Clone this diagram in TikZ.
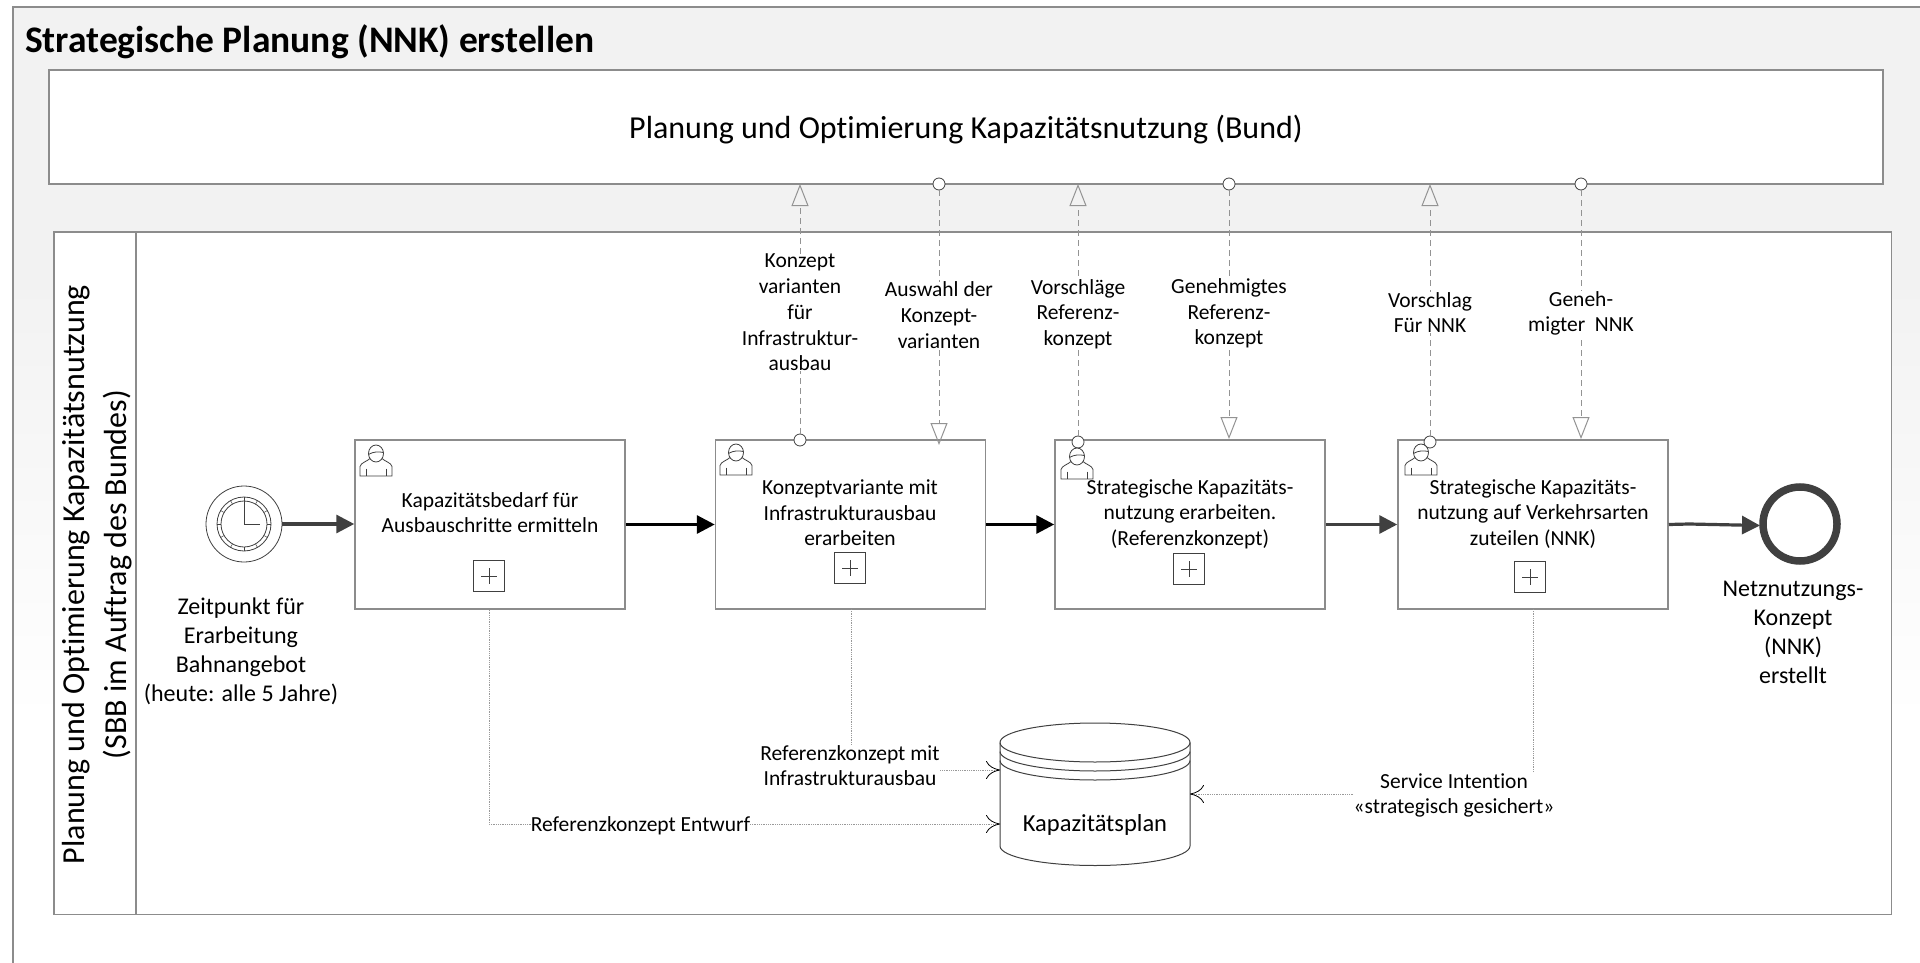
\documentclass[tikz,border=0pt]{standalone}
\usepackage{fontspec}
\setmainfont{Carlito}[Ligatures=CommonOff]
\usetikzlibrary{arrows.meta,shapes.geometric}
\definecolor{rahmen}{HTML}{8C8C8C}
\definecolor{fluss}{HTML}{404040}
\tikzset{
  titel/.style={anchor=west,font=\fontsize{37.5}{45}\selectfont\bfseries},
  kasten/.style={draw=rahmen,line width=1.5pt,fill=white},
  aufgabe/.style={draw=rahmen,line width=1.5pt,fill=white,minimum width=270pt,minimum height=169pt,inner sep=0pt},
  aufgabetext/.style={align=center,inner sep=0pt,yshift=-1pt,font=\fontsize{21.5}{25.5}\selectfont},
  plusbox/.style={draw=fluss,line width=0.7pt,fill=white,minimum width=31pt,minimum height=31pt,inner sep=0pt},
  gross/.style={align=center,inner sep=0pt,yshift=-1.5pt,font=\fontsize{24}{29}\selectfont},
  msgtext/.style={align=center,inner sep=0pt,yshift=-1.5pt,fill=white,font=\fontsize{21.5}{25.7}\selectfont},
  msgkreis/.style={circle,draw=fluss,line width=0.8pt,fill=white,minimum size=12pt,inner sep=0pt},
  msgfluss/.style={draw=gray!85,line width=1pt,dash pattern=on 6pt off 4pt,-{Triangle[open,length=22pt,width=17pt,sep=0pt]}},
  seqfluss/.style={draw=fluss,line width=3.2pt,-{Triangle[length=18pt,width=18pt]}},
  datenfluss/.style={draw=gray!80,line width=0.8pt,densely dotted},
  datenpfeil/.style={datenfluss,-{To[length=14pt,width=18pt,color=black]}},
  pics/person/.style={code={
    \draw[draw=fluss,line width=0.8pt,fill=white] (-16,15.5) -- (-16,6) .. controls (-15,2) and (-9,1) .. (-6,-2)
      -- (6,-2) .. controls (9,1) and (15,2) .. (16,6) -- (16,15.5) -- cycle;
    \draw[draw=fluss,line width=0.8pt,fill=white] (0,-7) ellipse [x radius=7.5,y radius=8.5];
    \draw[draw=fluss,line width=0.8pt] (-7.5,-6) .. controls (-3,-9) and (3,-9) .. (7.5,-8);
    \draw[draw=fluss,line width=0.6pt] (-10,8) -- (-10,15.5) (10,8) -- (10,15.5);
  }}
}
\begin{document}
\begin{tikzpicture}[x=1pt,y=-1pt]
\useasboundingbox (0,0) rectangle (1920,963);
% Hintergrund
\fill[black!5] (13,7) rectangle (1920,290);
\shade[top color=black!5,bottom color=white] (13,290) rectangle (1920,720);
\draw[draw=rahmen,line width=1.3pt] (13,963) -- (13,7) -- (1920,7);
\node[titel] (titel) at (21.5,42) {Strategische Planung (NNK) erstellen};
% Bund
\node[kasten,minimum width=1834pt,minimum height=114pt,inner sep=0pt] (bund) at (966,127) {};
\node[gross,font=\fontsize{32}{38}\selectfont,yshift=0pt] (bundtext) at (966,128.5) {Planung und Optimierung Kapazitätsnutzung (Bund)};
% Pool
\node[kasten,minimum width=1837.5pt,minimum height=682.5pt,inner sep=0pt] (pool) at (972.75,573.25) {};
\node[inner sep=0pt,minimum width=82.5pt,minimum height=682.5pt,kasten,fill=none] (lane) at (94.75,573.25) {};
\node[gross,rotate=90,font=\fontsize{32}{42}\selectfont,yshift=0pt] (lanetext) at (97,573)
  {Planung und Optimierung Kapazitätsnutzung\\(SBB im Auftrag des Bundes)};
% Ereignisse und Aufgaben
\node[circle,draw=fluss,line width=0.8pt,fill=white,minimum size=76pt,inner sep=0pt] (start) at (244,524) {};
\node[circle,draw=fluss,line width=0.8pt,minimum size=54pt,inner sep=0pt] (startb) at (244,524) {};
\node[circle,draw=fluss,line width=0.8pt,minimum size=46pt,inner sep=0pt] (startc) at (244,524) {};
\foreach \w in {0,30,...,330} \draw[draw=fluss,line width=0.5pt] (startc.\w) -- (startb.\w);
\draw[draw=fluss,line width=0.8pt] (244,501) -- (244,524) -- (260,524);
\node[gross] (starttext) at (241,650) {Zeitpunkt für\\Erarbeitung\\Bahnangebot\\(heute: alle 5 Jahre)};
\node[aufgabe] (t1) at (490,524.5) {};
\node[aufgabe] (t2) at (850.5,524.5) {};
\node[aufgabe] (t3) at (1190,524.5) {};
\node[aufgabe] (t4) at (1533,524.5) {};
\node[circle,draw=fluss,line width=7.5pt,fill=white,minimum size=74pt,inner sep=0pt] (ende) at (1800,524) {};
\node[gross] (endetext) at (1793,631) {Netznutzungs-\\Konzept\\(NNK)\\erstellt};
\node[aufgabetext] (t1text) at (490,511.5) {Kapazitätsbedarf für\\Ausbauschritte ermitteln};
\node[aufgabetext] (t2text) at (850,512) {Konzeptvariante mit\\Infrastrukturausbau\\erarbeiten};
\node[aufgabetext] (t3text) at (1190,513) {Strategische Kapazitäts-\\nutzung erarbeiten.\\(Referenzkonzept)};
\node[aufgabetext] (t4text) at (1533,513) {Strategische Kapazitäts-\\nutzung auf Verkehrsarten\\zuteilen (NNK)};
\node[plusbox] (p1) at (489,576) {};
\node[plusbox] (p2) at (850,568) {};
\node[plusbox] (p3) at (1189,569) {};
\node[plusbox] (p4) at (1530,577) {};
\foreach \p in {p1,p2,p3,p4}
  \draw[draw=fluss,line width=0.6pt] (\p.center) ++(-8,0) -- ++(16,0) (\p.center) ++(0,-8) -- ++(0,16);
% Nachrichten
\node[msgkreis] (q1) at (800,440) {};
\node[msgkreis] (q2) at (939,184) {};
\node[msgkreis] (q3) at (1078,442) {};
\node[msgkreis] (q4) at (1229,184) {};
\node[msgkreis] (q5) at (1430,442) {};
\node[msgkreis] (q6) at (1581,184) {};
\coordinate (z1) at (800,184);
\coordinate (z2) at (939,445);
\coordinate (z3) at (1078,184);
\coordinate (z4) at (1229,439);
\coordinate (z5) at (1430,184);
\coordinate (z6) at (1581,439);
\foreach \i in {1,...,6} \draw[msgfluss] (q\i) -- (z\i);
\node[msgtext] (m1) at (800,311) {Konzept\\varianten\\für\\Infrastruktur-\\ausbau};
\node[msgtext] (m2) at (939,313.5) {Auswahl der\\Konzept-\\varianten};
\node[msgtext] (m3) at (1078,312.5) {Vorschläge\\Referenz-\\konzept};
\node[msgtext] (m4) at (1229,312) {Genehmigtes\\Referenz-\\konzept};
\node[msgtext] (m5) at (1430,311) {Vorschlag\\Für NNK};
\node[msgtext] (m6) at (1581,312) {Geneh-\\migter~~NNK};
% Personen
\pic at (376,460.5) {person};
\pic at (736,459.5) {person};
\pic at (1077,463.5) {person};
\pic at (1421,459.5) {person};
% Sequenz
\coordinate (endein) at (1760,525.5);
\draw[seqfluss] (start) -- (start -| t1.west);
\draw[seqfluss,draw=black] (t1) -- (t2);
\draw[seqfluss,draw=black] (t2) -- (t3);
\draw[seqfluss] (t3) -- (t4);
\draw[seqfluss] (t4.east) -- (1689,524) -- (endein);
% Kapazitaetsplan
\draw[draw=fluss,line width=1pt,fill=white] (1000,742.5) -- (1000,846) arc [start angle=180,end angle=0,x radius=95,y radius=19.5]
  -- (1190,742.5) arc [start angle=0,end angle=-180,x radius=95,y radius=19.5];
\draw[draw=fluss,line width=1pt] (1000,742.5) arc [start angle=180,end angle=0,x radius=95,y radius=19.5]
  (1000,751.5) arc [start angle=180,end angle=0,x radius=95,y radius=19.5]
  (1000,760.5) arc [start angle=180,end angle=0,x radius=95,y radius=19.5];
\node[gross,font=\fontsize{24.5}{28}\selectfont] (plan) at (1095,823) {Kapazitätsplan};
% Daten
\coordinate (d1) at (1000,824);
\coordinate (d2) at (1000,770);
\coordinate (d3) at (1190,794);
\draw[datenpfeil] (p1 |- t1.south) -- (p1 |- d1) -- (d1);
\draw[datenpfeil] (851,609) -- (851,770) -- (d2);
\draw[datenpfeil] (1533.5,609) -- (1533.5,794) -- (d3);
\node[msgtext] (e1) at (640.5,824) {Referenzkonzept Entwurf};
\node[msgtext] (e2) at (850,764) {Referenzkonzept mit\\Infrastrukturausbau};
\node[msgtext] (e3) at (1454,794) {Service Intention\\«strategisch gesichert»};
\end{tikzpicture}
\end{document}
